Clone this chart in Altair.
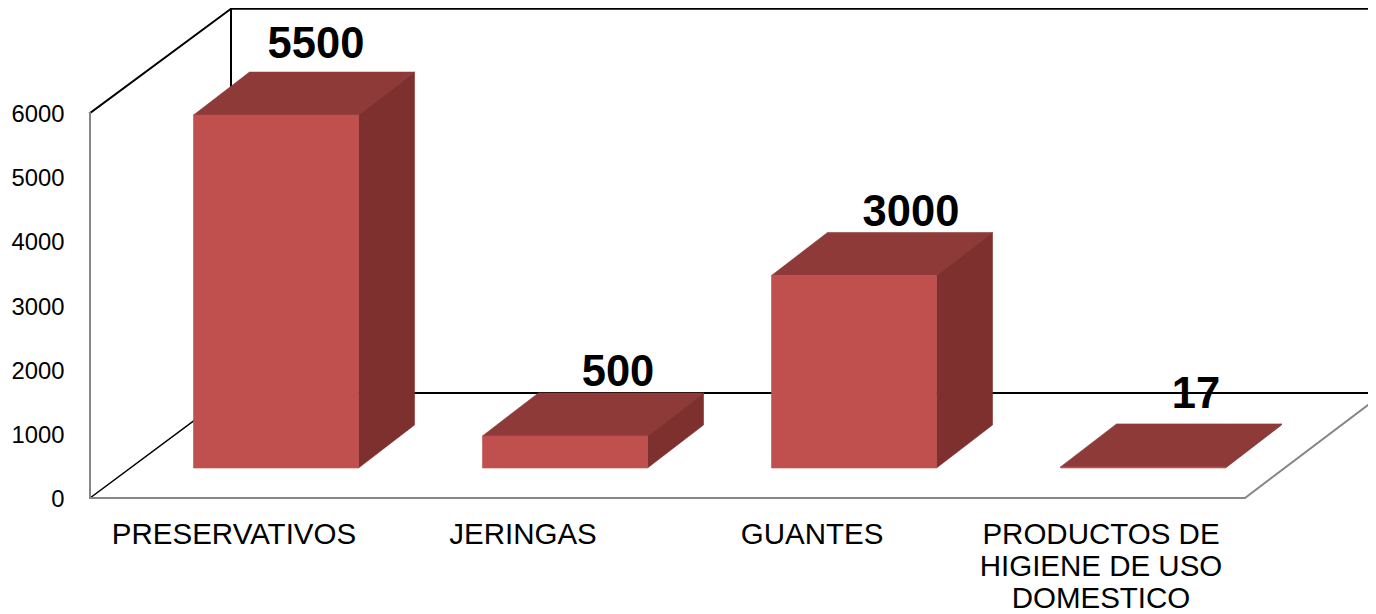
import altair as alt
import pandas as pd

categories = ["PRESERVATIVOS", "JERINGAS", "GUANTES", "PRODUCTOS DE\nHIGIENE DE USO\nDOMESTICO"]
values = [5500, 500, 3000, 17]
y_ticks = [0, 1000, 2000, 3000, 4000, 5000, 6000]

# Page geometry of the chart (pixels)
W, H = 1360, 606
PX_ORIGIN, PX_STEP = 276, 289      # first bar centre, bar spacing
PY_ZERO, PY_PER_UNIT = 498, 385 / 6000


def ux(px):
    return (px - PX_ORIGIN) / PX_STEP


def uy(py):
    return (PY_ZERO - py) / PY_PER_UNIT


x_scale = alt.Scale(domain=[ux(8), ux(8 + W)], nice=False, zero=False)
y_scale = alt.Scale(domain=[uy(8 + H), uy(8)], nice=False, zero=False)
X = alt.X("x:Q", scale=x_scale, axis=None)
Y_PLAIN = alt.Y("y:Q", scale=y_scale, title=None)

half = 82.5 / PX_STEP
dx = 56 / PX_STEP
dy = 43 / PY_PER_UNIT
base = 30 / PY_PER_UNIT

front, top, side = [], [], []
for i, v in enumerate(values):
    l, r = i - half, i + half
    t = base + v
    front += [dict(b=i, x=l, y=base, y2=t), dict(b=i, x=r, y=base, y2=t)]
    top += [
        dict(b=i, x=l, y=t, y2=t),
        dict(b=i, x=l + dx, y=t, y2=t + dy),
        dict(b=i, x=r, y=t, y2=t + dy),
        dict(b=i, x=r + dx, y=t + dy, y2=t + dy),
    ]
    side += [
        dict(b=i, x=r, y=base, y2=t),
        dict(b=i, x=r + dx, y=base + dy, y2=t + dy),
    ]


def faces(rows, color):
    return alt.Chart(pd.DataFrame(rows)).mark_area(
        color=color, stroke=color, strokeWidth=0.6, interpolate="linear", line=False, opacity=1
    ).encode(x=X, y=Y_PLAIN, y2="y2:Q", detail="b:N")


def polyline(points, color, width):
    rows = [dict(x=ux(px), y=uy(py), o=k) for k, (px, py) in enumerate(points)]
    return alt.Chart(pd.DataFrame(rows)).mark_line(
        color=color, strokeWidth=width, interpolate="linear", strokeCap="square"
    ).encode(x=X, y=Y_PLAIN, order="o:Q")


TOP_PY = 8.8
walls = [
    polyline([(90, 113), (231, TOP_PY), (1376, TOP_PY)], "#000000", 2),
    polyline([(231, TOP_PY), (231, 393), (1376, 393)], "#000000", 2),
    polyline([(90, 498), (231, 393)], "#000000", 1.5),
    polyline([(90, 113), (90, 498), (1245, 498), (1376, 399)], "#868686", 2),
]

# Value axis, drawn at the left wall
axis_layer = alt.Chart(pd.DataFrame({"x": [ux(90)] * 2, "y": [0, 6000]})).mark_point(opacity=0).encode(
    x=X,
    y=alt.Y(
        "y:Q",
        scale=y_scale,
        axis=alt.Axis(
            values=y_ticks, title=None, grid=False, domain=False, ticks=False, orient="left",
            offset=-56, labelPadding=0, labelFont="Liberation Sans", labelFontSize=23.8,
            labelColor="#000000", labelFlush=False, labelOverlap=False, format="d", labelOffset=1.5,
        ),
    ),
)

cat_rows = pd.DataFrame({
    "label": categories,
    "x": [i - 42 / PX_STEP for i in range(4)],
    "y": [uy(543.5)] * 4,
})
cat_text = alt.Chart(cat_rows).mark_text(
    font="Liberation Sans", fontSize=29.5, color="#000000", align="center",
    baseline="alphabetic", lineBreak="\n", lineHeight=32,
).encode(x=X, y=Y_PLAIN, text="label:N")

label_shift_x = [40, 53, 57, 53]
label_lift = [14, 7, 7, 16]
val_rows = pd.DataFrame({
    "label": [str(v) for v in values],
    "x": [i + s / PX_STEP for i, s in enumerate(label_shift_x)],
    "y": [base + v + dy + lift / PY_PER_UNIT for v, lift in zip(values, label_lift)],
})
val_text = alt.Chart(val_rows).mark_text(
    font="Liberation Sans", fontSize=43.5, fontWeight="bold", color="#000000",
    align="center", baseline="alphabetic",
).encode(x=X, y=Y_PLAIN, text="label:N")

chart = alt.layer(
    axis_layer,
    *walls,
    faces(top, "#8E3A38"),
    faces(side, "#7D302E"),
    faces(front, "#C0504D"),
    cat_text,
    val_text,
).properties(
    width=W, height=H, padding=0,
    autosize=alt.AutoSizeParams(type="none"),
    background="white",
).configure_view(stroke=None)

chart.save("out.html", embed_options={"renderer": "svg", "actions": False})
